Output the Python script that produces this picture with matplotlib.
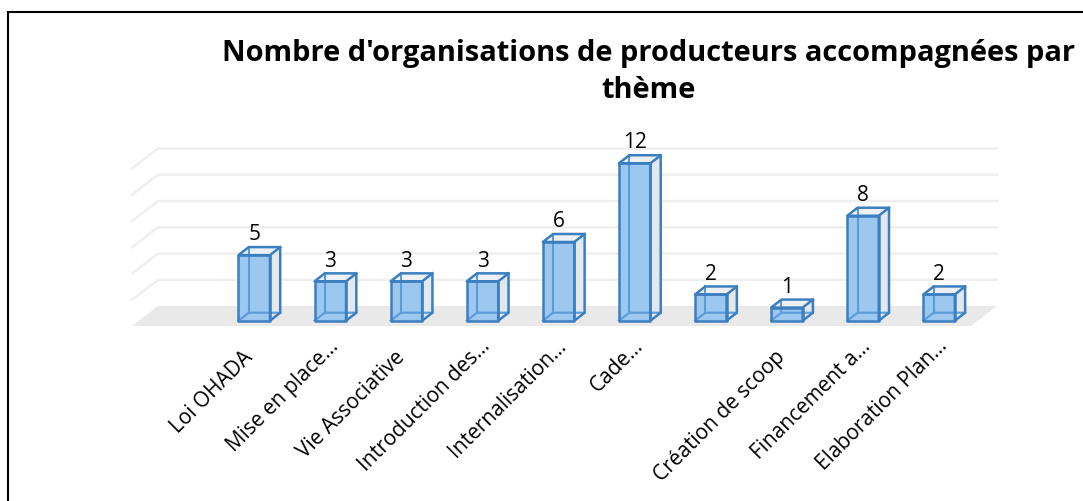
import matplotlib
matplotlib.use("Agg")
import matplotlib.pyplot as plt
from matplotlib.patches import Polygon, Rectangle
from matplotlib.transforms import ScaledTranslation

# ================= DATA =================
# the 7th bar has no label in the picture
labels = ["Loi OHADA", "Mise en place…", "Vie Associative", "Introduction des…",
          "Internalisation…", "Cade…", "", "Création de scoop", "Financement a…",
          "Elaboration Plan…"]
values = [5, 3, 3, 3, 6, 12, 2, 1, 8, 2]
grid_values = [2, 4, 6, 8, 10, 12]
title = "Nombre d'organisations de producteurs accompagnées par\nthème"

W, H = 1083, 502
FONT = "Open Sans"
EDGE = "#3B7FC0"
INNER = "#5A9BD8"
FRONT = "#9CC7EF"
SIDE = "#E3E8EC"
TOP = "#EDF1F5"
UNIT = 13.12    # pixels per value

fig = plt.figure(figsize=(W / 100, H / 100), dpi=100)
fig.patch.set_facecolor("white")

# plot region in pixels: x 132-997, y 150-327
ax = fig.add_axes([132 / W, 1 - 327 / H, (997 - 132) / W, (327 - 150) / H])
ax.set_xlim((132 - 254.2) / 76.1, (997 - 254.2) / 76.1)
ax.set_ylim(-5.3 / UNIT, (321.7 - 150) / UNIT)
ax.set_frame_on(False)
ax.yaxis.set_visible(False)

# ================= FAKE 3D SIZES (data units) =================
BAR_W = 0.414
DX = 0.135      # bar depth
DY = 8 / UNIT
FLOOR_DX = 26 / 76.1
FLOOR_DY = 20 / UNIT
y0 = -5.3 / UNIT
xl, xr = ax.get_xlim()

# floor and grid
floor_back = y0 + FLOOR_DY
ax.add_patch(Polygon([(xl, y0), (xl + FLOOR_DX, floor_back), (xr, floor_back), (xr - FLOOR_DX, y0)],
                     closed=True, fc="#E9E9E9", ec="none", zorder=1))
for g in grid_values:
    yb = floor_back + g
    ax.plot([xl, xl + FLOOR_DX, xr], [yb - FLOOR_DY, yb, yb], color="#EFEFEF", lw=1.8,
            clip_on=False, zorder=1, solid_joinstyle="round")

# ================= BARS =================
for i, v in enumerate(values):
    x1 = i - BAR_W / 2
    x2 = i + BAR_W / 2
    # side + top faces behind
    ax.add_patch(Polygon([(x2, 0), (x2 + DX, DY), (x2 + DX, v + DY), (x2, v)], closed=True,
                         fc=SIDE, ec="none", zorder=2))
    ax.add_patch(Polygon([(x1, v), (x1 + DX, v + DY), (x2 + DX, v + DY), (x2, v)], closed=True,
                         fc=TOP, ec="none", zorder=2))
    # front face
    ax.add_patch(Rectangle((x1, 0), BAR_W, v, fc=FRONT, ec="none", zorder=3))
    # hidden edges seen through the glass
    ax.plot([x1 + DX, x1 + DX], [DY, v + DY], color=INNER, lw=1.5, zorder=4)
    ax.plot([x1, x1 + DX, x2 + DX], [0, DY, DY], color=INNER, lw=1.5, zorder=4)
    # outline
    ax.add_patch(Rectangle((x1, 0), BAR_W, v, fc="none", ec=EDGE, lw=1.8, zorder=5, joinstyle="round"))
    ax.add_patch(Polygon([(x1, v), (x1 + DX, v + DY), (x2 + DX, v + DY), (x2 + DX, DY), (x2, 0), (x2, v)],
                         closed=True, fc="none", ec=EDGE, lw=1.8, zorder=5, joinstyle="round"))
    ax.plot([x2, x2 + DX], [v, v + DY], color=EDGE, lw=1.8, zorder=5)
    ax.annotate(str(v), (i, v + DY), xytext=(0, 2), textcoords="offset points", ha="center", va="bottom",
                family=FONT, fontsize=15, color="black", annotation_clip=False, zorder=6)

# ================= TICK LABELS =================
ax.set_xticks(range(len(labels)))
ax.set_xticklabels(labels, rotation=45, ha="right", rotation_mode="anchor", family=FONT, fontsize=15)
ax.tick_params(axis="x", length=0, pad=15)
for t in ax.get_xticklabels():
    # truncated labels sit further along the slant than the full ones
    if t.get_text().endswith("…"):
        dx, dy = -2.5, 12
    else:
        dx, dy = -12, 1
    shift = ScaledTranslation(dx / 100, dy / 100, fig.dpi_scale_trans)
    t.set_transform(t.get_transform() + shift)

# ================= TITLE + FRAME =================
fig.text(649 / W, 1 - 72 / H, title, ha="center", va="center", family=FONT, fontweight="bold",
         fontsize=20.9, color="black", linespacing=1.36)
fig.add_artist(Rectangle((7.5 / W, -0.1), 1.2, 1.1 - 12.5 / H, transform=fig.transFigure,
                         fc="none", ec="black", lw=1.5, clip_on=True))

fig.savefig("out.png", dpi=100)
